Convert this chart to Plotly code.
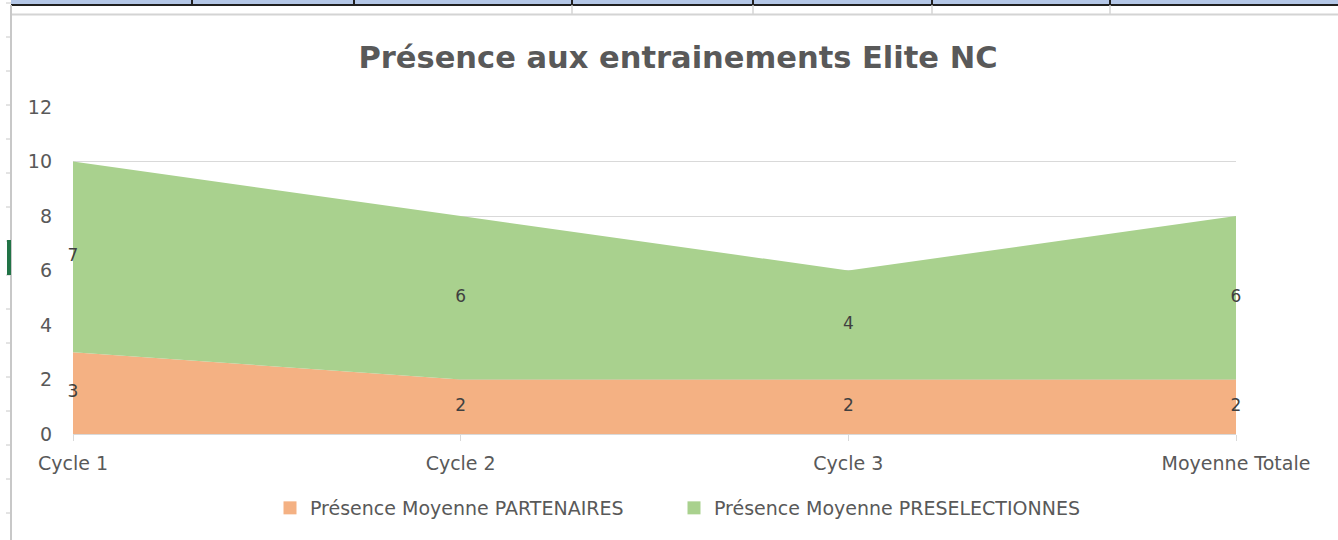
import plotly.graph_objects as go

categories = ["Cycle 1", "Cycle 2", "Cycle 3", "Moyenne Totale"]
partenaires = [3, 2, 2, 2]
preselectionnes = [7, 6, 4, 6]
series_names = ["Présence Moyenne PARTENAIRES", "Présence Moyenne PRESELECTIONNES"]
colors = ["#F4B183", "#A9D18E"]
y_ticks = [0, 2, 4, 6, 8, 10, 12]

W, H = 1338, 540
L, R, T, B = 73, 1236, 107, 434  # plot area in pixels

def px(x):
    return (x - L) / (R - L)

def py(y):
    return (B - y) / (B - T)

xs = list(range(len(categories)))
font = "DejaVu Sans"

fig = go.Figure()
fig.add_trace(go.Scatter(x=xs, y=partenaires, stackgroup="one", mode="none",
                         fillcolor=colors[0], name=series_names[0], showlegend=False,
                         hoverinfo="y"))
fig.add_trace(go.Scatter(x=xs, y=preselectionnes, stackgroup="one", mode="none",
                         fillcolor=colors[1], name=series_names[1], showlegend=False,
                         hoverinfo="y"))

# data labels centred in each band
lab1_y = [p / 2 for p in partenaires]
lab2_y = [p + s / 2 for p, s in zip(partenaires, preselectionnes)]
fig.add_trace(go.Scatter(x=xs, y=lab1_y, mode="text", text=[str(v) for v in partenaires],
                         textfont=dict(family=font, size=17, color="#404040"),
                         showlegend=False, hoverinfo="skip", cliponaxis=False))
fig.add_trace(go.Scatter(x=xs, y=lab2_y, mode="text", text=[str(v) for v in preselectionnes],
                         textfont=dict(family=font, size=17, color="#404040"),
                         showlegend=False, hoverinfo="skip", cliponaxis=False))

# legend entries with square swatches (one legend each, to control spacing)
for name, c, lg in zip(series_names, colors, ["legend", "legend2"]):
    fig.add_trace(go.Scatter(x=[None], y=[None], mode="markers", name=name, legend=lg,
                             marker=dict(symbol="square", size=13, color=c)))

shapes = []
grid = "#D9D9D9"
# spreadsheet surroundings (decoration)
shapes.append(dict(type="rect", xref="paper", yref="paper", x0=px(11), x1=px(W), y0=py(0), y1=py(4),
                   fillcolor="#B4C7E7", line=dict(width=0), layer="above"))
shapes.append(dict(type="line", xref="paper", yref="paper", x0=px(11), x1=px(W), y0=py(5), y1=py(5),
                   line=dict(color="#202020", width=2)))
shapes.append(dict(type="line", xref="paper", yref="paper", x0=px(11), x1=px(W), y0=py(14.5), y1=py(14.5),
                   line=dict(color="#D4D4D4", width=2)))
for xd in [192, 354, 572, 753, 932, 1110]:
    shapes.append(dict(type="line", xref="paper", yref="paper", x0=px(xd), x1=px(xd), y0=py(0), y1=py(5),
                       line=dict(color="#202020", width=2)))
for xd in [572, 753, 932, 1110]:
    shapes.append(dict(type="line", xref="paper", yref="paper", x0=px(xd), x1=px(xd), y0=py(5), y1=py(14),
                       line=dict(color="#D4D4D4", width=1.5)))
shapes.append(dict(type="line", xref="paper", yref="paper", x0=px(11), x1=px(11), y0=py(5), y1=py(H),
                   line=dict(color="#C8C8C8", width=2)))
for yt in range(3, H, 34):
    shapes.append(dict(type="line", xref="paper", yref="paper", x0=px(6), x1=px(11), y0=py(yt), y1=py(yt),
                       line=dict(color="#C8C8C8", width=1)))
shapes.append(dict(type="rect", xref="paper", yref="paper", x0=px(7), x1=px(11), y0=py(240), y1=py(275),
                   fillcolor="#217346", line=dict(width=0)))

leg_common = dict(orientation="h", xanchor="left", y=py(508), yanchor="middle",
                  font=dict(family=font, size=19, color="#595959"), itemwidth=30,
                  bgcolor="rgba(0,0,0,0)")

fig.update_layout(
    width=W, height=H,
    margin=dict(l=L, r=W - R, t=T, b=H - B),
    paper_bgcolor="white", plot_bgcolor="white",
    title=dict(text="<b>Présence aux entrainements Elite NC</b>", x=678 / W, xanchor="center",
               y=1 - 57 / H, yanchor="middle", xref="container", yref="container",
               font=dict(family=font, size=30.5, color="#595959")),
    xaxis=dict(range=[0, len(categories) - 1], tickvals=xs, ticktext=categories,
               showgrid=False, zeroline=False, showline=True, linecolor=grid, linewidth=1,
               ticks="outside", ticklen=6, tickcolor=grid, ticklabelstandoff=6,
               tickfont=dict(family=font, size=19, color="#595959")),
    yaxis=dict(range=[0, 12], tickvals=y_ticks, showgrid=True, gridcolor=grid, gridwidth=1,
               zeroline=False, showline=False, ticks="", ticklabelstandoff=20,
               tickfont=dict(family=font, size=19, color="#595959")),
    legend=dict(x=px(270), **leg_common),
    legend2=dict(x=px(674), **leg_common),
    shapes=shapes,
    showlegend=True,
)

fig.write_html("out.html", config={"displayModeBar": False},
               post_script="document.body.style.margin='0px';")
